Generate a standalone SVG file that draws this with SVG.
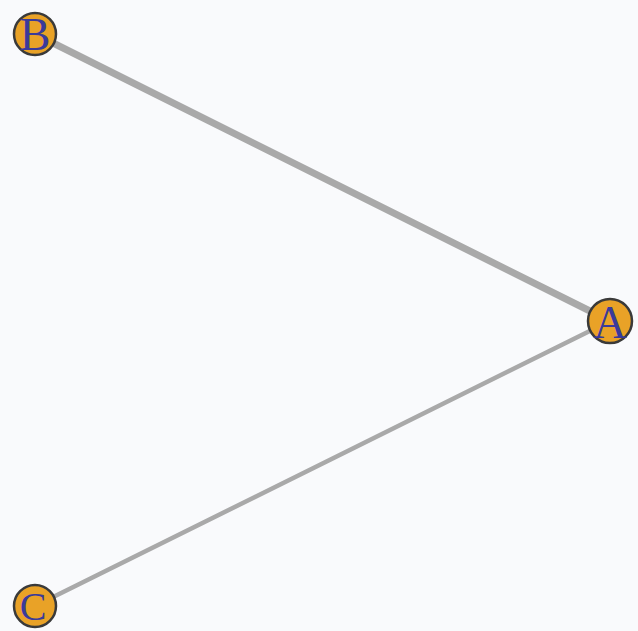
<svg xmlns="http://www.w3.org/2000/svg" width="638" height="631" viewBox="0 0 638 631">
<style>
.node circle{fill:#e9a227;stroke:#3a3a3a;stroke-width:2.5}
.node text{font-family:"Liberation Serif",serif;font-size:46px;fill:#3a3a9a;text-anchor:middle}
.edge{stroke:#a9a9a9;stroke-linecap:round;fill:none}
</style>
<rect width="638" height="631" fill="#f9fafc"/>
<g id="connectors">
<line class="edge" x1="35" y1="34" x2="610" y2="321" stroke-width="7"/>
<line class="edge" x1="35" y1="606" x2="610" y2="321" stroke-width="4.5"/>
</g>
<g id="B" class="node"><circle cx="35" cy="34" r="21"/><text x="35" y="50">B</text></g>
<g id="A" class="node"><circle cx="610" cy="321" r="22"/><text x="610" y="338">A</text></g>
<g id="C" class="node"><circle cx="35" cy="606" r="21"/><text x="33" y="620" style="font-size:40px">C</text></g>
</svg>
